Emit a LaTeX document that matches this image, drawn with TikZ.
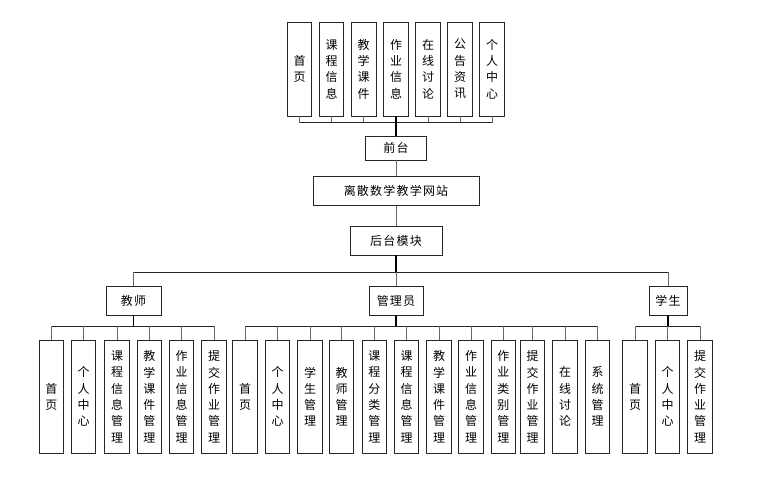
\documentclass[tikz,border=0pt]{standalone}
\usepackage{fontspec}
\newfontfamily\cjk{Noto Sans CJK SC}
\newfontfamily\cjkwide[LetterSpace=10]{Noto Sans CJK SC}

\tikzset{
	box/.style={draw=black!85, line width=0.9pt, fill=white, inner sep=0pt, font=\cjkwide\fontsize{12}{14}\selectfont},
	vbox/.style={box, minimum width=24.5pt, align=center, font=\cjk\fontsize{12}{16.3}\selectfont},
	topbox/.style={vbox, minimum height=94pt},
	lowbox/.style={vbox, minimum height=113.5pt},
	stub/.style={draw=black!60, line width=1pt},
	bus/.style={draw=black!85, line width=0.9pt},
	mainline/.style={draw=black, line width=1.7pt},
}

\begin{document}
\begin{tikzpicture}[x=1pt, y=-1pt]

	\useasboundingbox (0,0) rectangle (783,476);

	% front pages
	\node[topbox] (f1) at (299.5,69) {首\\页};
	\node[topbox] (f2) at (331.5,69) {课\\程\\信\\息};
	\node[topbox] (f3) at (363.7,69) {教\\学\\课\\件};
	\node[topbox] (f4) at (396,69) {作\\业\\信\\息};
	\node[topbox] (f5) at (428,69) {在\\线\\讨\\论};
	\node[topbox] (f6) at (460,69) {公\\告\\资\\讯};
	\node[topbox] (f7) at (492,69) {个\\人\\中\\心};
	\coordinate (fbus) at (396,122.7);

	\node[box, minimum width=61pt, minimum height=24pt] (qt) at (396,148) {前台};
	\node[box, minimum width=166pt, minimum height=29pt] (site) at (396,191) {离散数学教学网站};
	\node[box, minimum width=92pt, minimum height=29pt] (ht) at (396,240.5) {后台模块};
	\coordinate (rbus) at (396,272);

	% roles
	\node[box, minimum width=55pt, minimum height=29pt] (js) at (133.5,300.5) {教师};
	\node[box, minimum width=54pt, minimum height=29pt] (gly) at (396,300.5) {管理员};
	\node[box, minimum width=38pt, minimum height=29pt] (xs) at (668,300.5) {学生};
	\coordinate (lbus) at (396,326);

	% teacher
	\node[lowbox] (t1) at (51.3,396.7) {首\\页};
	\node[lowbox] (t2) at (83.5,396.7) {个\\人\\中\\心};
	\node[lowbox] (t3) at (117,396.7) {课\\程\\信\\息\\管\\理};
	\node[lowbox] (t4) at (149.3,396.7) {教\\学\\课\\件\\管\\理};
	\node[lowbox] (t5) at (181.5,396.7) {作\\业\\信\\息\\管\\理};
	\node[lowbox] (t6) at (214,396.7) {提\\交\\作\\业\\管\\理};

	% admin
	\node[lowbox] (a1) at (245,396.7) {首\\页};
	\node[lowbox] (a2) at (277.5,396.7) {个\\人\\中\\心};
	\node[lowbox] (a3) at (310,396.7) {学\\生\\管\\理};
	\node[lowbox] (a4) at (341.5,396.7) {教\\师\\管\\理};
	\node[lowbox] (a5) at (374.3,396.7) {课\\程\\分\\类\\管\\理};
	\node[lowbox] (a6) at (406.5,396.7) {课\\程\\信\\息\\管\\理};
	\node[lowbox] (a7) at (439,396.7) {教\\学\\课\\件\\管\\理};
	\node[lowbox] (a8) at (471,396.7) {作\\业\\信\\息\\管\\理};
	\node[lowbox] (a9) at (503.3,396.7) {作\\业\\类\\别\\管\\理};
	\node[lowbox] (a10) at (532.5,396.7) {提\\交\\作\\业\\管\\理};
	\node[lowbox] (a11) at (565,396.7) {在\\线\\讨\\论};
	\node[lowbox] (a12) at (597.5,396.7) {系\\统\\管\\理};

	% student
	\node[lowbox] (s1) at (635,396.7) {首\\页};
	\node[lowbox] (s2) at (667.5,396.7) {个\\人\\中\\心};
	\node[lowbox] (s3) at (700,396.7) {提\\交\\作\\业\\管\\理};

	% front connectors
	\foreach \n in {f1,f2,f3,f5,f6,f7}
		\draw[stub] (\n.south) -- (\n.south |- fbus);
	\draw[bus] (f1.south |- fbus) -- (f7.south |- fbus);
	\draw[mainline] (f4.south) -- (qt.north);
	\draw[stub] (qt.south) -- (site.north);
	\draw[stub] (site.south) -- (ht.north);

	% role connectors
	\draw[mainline] (ht.south) -- (rbus);
	\draw[bus] (js.north |- rbus) -- (xs.north |- rbus);
	\foreach \n in {js,gly,xs}
		\draw[stub] (\n.north |- rbus) -- (\n.north);

	% module connectors
	\foreach \r/\a/\b/\list in {js/t1/t6/{t1,t2,t3,t4,t5,t6}, gly/a1/a12/{a1,a2,a3,a4,a5,a6,a7,a8,a9,a10,a11,a12}, xs/s1/s3/{s1,s2,s3}} {
		\draw[mainline] (\r.south) -- (\r.south |- lbus);
		\draw[bus] (\a.north |- lbus) -- (\b.north |- lbus);
		\foreach \n in \list
			\draw[stub] (\n.north |- lbus) -- (\n.north);
	}

\end{tikzpicture}
\end{document}
